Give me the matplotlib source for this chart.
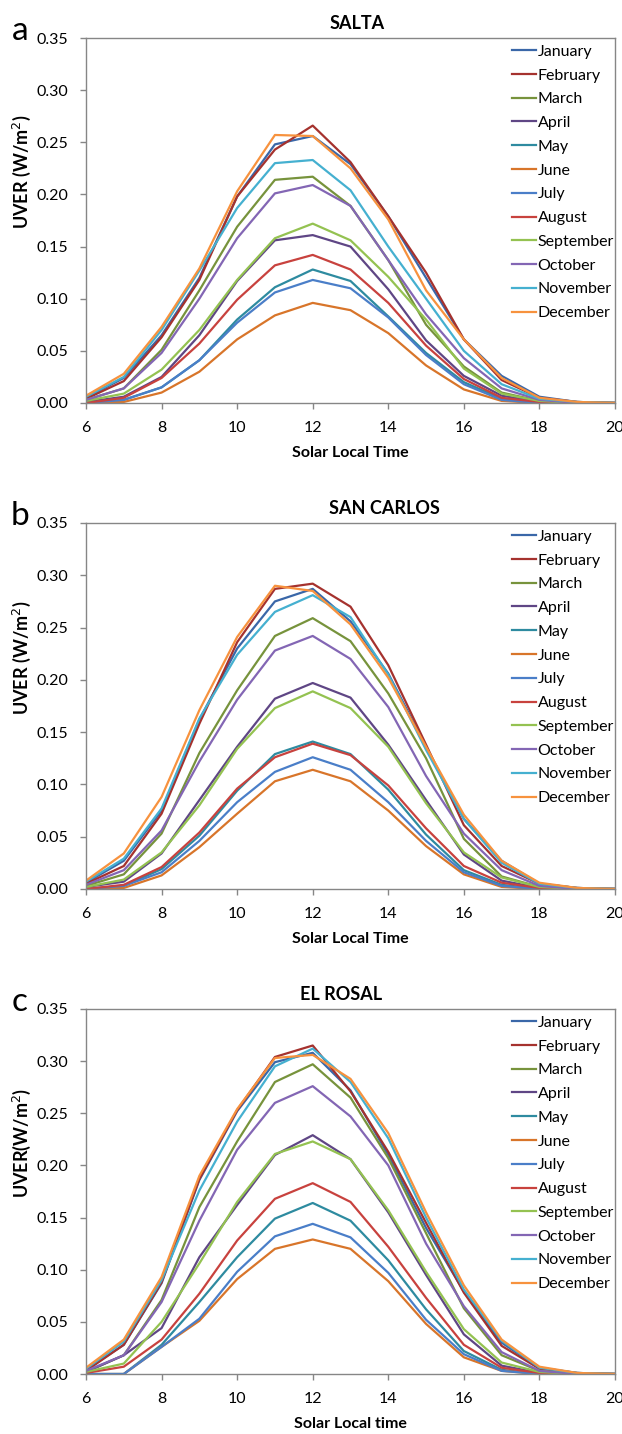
import numpy as np
import matplotlib
matplotlib.use("Agg")
import matplotlib.pyplot as plt

plt.rcParams['font.family'] = ['Lato', 'DejaVu Sans']

hours = list(range(6, 21))
months = ["January", "February", "March", "April", "May", "June", "July",
          "August", "September", "October", "November", "December"]
colors = ["#3A67A8", "#A5322E", "#77933C", "#5F4685", "#2E8BA0", "#D8752A",
          "#4A7EC8", "#C8423E", "#94C251", "#8366B4", "#45B0D0", "#F7923E"]

# SALTA
salta_jan = [0.005, 0.024, 0.065, 0.120, 0.198, 0.248, 0.256, 0.229, 0.179, 0.120, 0.061, 0.026, 0.006, 0.001, 0.000]
salta_feb = [0.004, 0.021, 0.063, 0.118, 0.198, 0.243, 0.266, 0.231, 0.179, 0.125, 0.061, 0.022, 0.005, 0.001, 0.000]
salta_mar = [0.003, 0.014, 0.051, 0.108, 0.169, 0.214, 0.217, 0.189, 0.137, 0.075, 0.035, 0.010, 0.002, 0.000, 0.000]
salta_apr = [0.001, 0.006, 0.025, 0.065, 0.117, 0.156, 0.161, 0.150, 0.109, 0.060, 0.026, 0.007, 0.001, 0.000, 0.000]
salta_may = [0.000, 0.003, 0.015, 0.041, 0.080, 0.111, 0.128, 0.117, 0.083, 0.048, 0.020, 0.004, 0.000, 0.000, 0.000]
salta_jun = [0.000, 0.001, 0.010, 0.030, 0.061, 0.084, 0.096, 0.089, 0.067, 0.036, 0.013, 0.002, 0.000, 0.000, 0.000]
salta_jul = [0.000, 0.003, 0.015, 0.041, 0.077, 0.106, 0.118, 0.110, 0.082, 0.046, 0.018, 0.003, 0.000, 0.000, 0.000]
salta_aug = [0.000, 0.005, 0.024, 0.057, 0.099, 0.132, 0.142, 0.128, 0.096, 0.055, 0.023, 0.005, 0.001, 0.000, 0.000]
salta_sep = [0.002, 0.009, 0.032, 0.070, 0.118, 0.158, 0.172, 0.156, 0.121, 0.080, 0.033, 0.009, 0.002, 0.000, 0.000]
salta_oct = [0.003, 0.014, 0.048, 0.100, 0.158, 0.201, 0.209, 0.189, 0.137, 0.085, 0.043, 0.014, 0.003, 0.000, 0.000]
salta_nov = [0.006, 0.025, 0.070, 0.127, 0.187, 0.230, 0.233, 0.204, 0.150, 0.100, 0.050, 0.018, 0.004, 0.001, 0.000]
salta_dec = [0.007, 0.028, 0.073, 0.129, 0.203, 0.257, 0.256, 0.225, 0.176, 0.108, 0.061, 0.024, 0.005, 0.001, 0.000]

# SAN CARLOS
sc_jan = [0.006, 0.027, 0.075, 0.162, 0.230, 0.275, 0.287, 0.256, 0.206, 0.136, 0.067, 0.027, 0.005, 0.001, 0.000]
sc_feb = [0.005, 0.022, 0.072, 0.158, 0.236, 0.287, 0.292, 0.270, 0.214, 0.138, 0.061, 0.022, 0.005, 0.001, 0.000]
sc_mar = [0.003, 0.014, 0.053, 0.130, 0.190, 0.242, 0.259, 0.237, 0.187, 0.125, 0.048, 0.012, 0.002, 0.000, 0.000]
sc_apr = [0.002, 0.007, 0.034, 0.085, 0.136, 0.182, 0.197, 0.183, 0.138, 0.085, 0.033, 0.008, 0.001, 0.000, 0.000]
sc_may = [0.000, 0.003, 0.019, 0.051, 0.094, 0.129, 0.141, 0.129, 0.095, 0.052, 0.018, 0.004, 0.000, 0.000, 0.000]
sc_jun = [0.000, 0.001, 0.013, 0.040, 0.072, 0.103, 0.114, 0.103, 0.075, 0.041, 0.014, 0.002, 0.000, 0.000, 0.000]
sc_jul = [0.000, 0.003, 0.016, 0.046, 0.083, 0.112, 0.126, 0.114, 0.083, 0.046, 0.016, 0.003, 0.000, 0.000, 0.000]
sc_aug = [0.000, 0.004, 0.021, 0.054, 0.096, 0.126, 0.139, 0.128, 0.099, 0.058, 0.022, 0.006, 0.001, 0.000, 0.000]
sc_sep = [0.002, 0.009, 0.035, 0.080, 0.134, 0.173, 0.189, 0.173, 0.136, 0.082, 0.035, 0.011, 0.002, 0.000, 0.000]
sc_oct = [0.004, 0.018, 0.056, 0.122, 0.181, 0.228, 0.242, 0.220, 0.174, 0.108, 0.053, 0.018, 0.003, 0.000, 0.000]
sc_nov = [0.007, 0.029, 0.077, 0.163, 0.224, 0.265, 0.281, 0.260, 0.205, 0.133, 0.067, 0.025, 0.005, 0.001, 0.000]
sc_dec = [0.008, 0.034, 0.088, 0.171, 0.241, 0.290, 0.285, 0.253, 0.202, 0.136, 0.071, 0.027, 0.006, 0.001, 0.000]

# EL ROSAL
er_jan = [0.004, 0.028, 0.087, 0.186, 0.252, 0.299, 0.308, 0.272, 0.210, 0.140, 0.079, 0.030, 0.006, 0.001, 0.000]
er_feb = [0.003, 0.028, 0.088, 0.187, 0.253, 0.304, 0.315, 0.271, 0.213, 0.145, 0.078, 0.027, 0.005, 0.001, 0.000]
er_mar = [0.002, 0.018, 0.071, 0.160, 0.223, 0.280, 0.297, 0.265, 0.207, 0.135, 0.063, 0.018, 0.003, 0.000, 0.000]
er_apr = [0.002, 0.018, 0.044, 0.112, 0.162, 0.210, 0.229, 0.206, 0.155, 0.095, 0.038, 0.008, 0.001, 0.000, 0.000]
er_may = [0.000, 0.000, 0.028, 0.069, 0.112, 0.149, 0.164, 0.147, 0.109, 0.062, 0.022, 0.004, 0.000, 0.000, 0.000]
er_jun = [0.000, 0.000, 0.026, 0.051, 0.091, 0.120, 0.129, 0.120, 0.089, 0.048, 0.016, 0.003, 0.000, 0.000, 0.000]
er_jul = [0.000, 0.000, 0.026, 0.053, 0.098, 0.132, 0.144, 0.131, 0.097, 0.052, 0.019, 0.003, 0.000, 0.000, 0.000]
er_aug = [0.001, 0.007, 0.033, 0.077, 0.128, 0.168, 0.183, 0.165, 0.122, 0.073, 0.028, 0.006, 0.001, 0.000, 0.000]
er_sep = [0.002, 0.010, 0.050, 0.106, 0.165, 0.211, 0.223, 0.206, 0.157, 0.098, 0.043, 0.011, 0.002, 0.000, 0.000]
er_oct = [0.003, 0.018, 0.069, 0.147, 0.215, 0.260, 0.276, 0.247, 0.200, 0.125, 0.065, 0.021, 0.003, 0.000, 0.000]
er_nov = [0.005, 0.031, 0.090, 0.176, 0.242, 0.295, 0.312, 0.280, 0.226, 0.150, 0.081, 0.032, 0.006, 0.001, 0.000]
er_dec = [0.006, 0.033, 0.093, 0.190, 0.254, 0.303, 0.306, 0.283, 0.231, 0.155, 0.085, 0.033, 0.007, 0.001, 0.000]

salta = [salta_jan, salta_feb, salta_mar, salta_apr, salta_may, salta_jun,
         salta_jul, salta_aug, salta_sep, salta_oct, salta_nov, salta_dec]
san_carlos = [sc_jan, sc_feb, sc_mar, sc_apr, sc_may, sc_jun,
              sc_jul, sc_aug, sc_sep, sc_oct, sc_nov, sc_dec]
el_rosal = [er_jan, er_feb, er_mar, er_apr, er_may, er_jun,
            er_jul, er_aug, er_sep, er_oct, er_nov, er_dec]

panels = [
    ("a", "SALTA", "UVER (W/m$^2$)", "Solar Local Time", salta, 0.512),
    ("b", "SAN CARLOS", "UVER (W/m$^2$)", "Solar Local Time", san_carlos, 0.565),
    ("c", "EL ROSAL", "UVER(W/m$^2$)", "Solar Local time", el_rosal, 0.482),
]

W, H = 622, 1434
fig = plt.figure(figsize=(W / 100, H / 100), dpi=100)

# pixel boxes (top, bottom) of each plot area
boxes = [(38, 403), (523, 889), (1009, 1374)]
left_px, right_px = 86, 615

for (letter, title, ylab, xlab, series, tx), (top, bot) in zip(panels, boxes):
    ax = fig.add_axes([left_px / W, 1 - bot / H, (right_px - left_px) / W, (bot - top) / H])
    for name, vals, c in zip(months, series, colors):
        ax.plot(hours, vals, color=c, lw=1.6, label=name)
    ax.set_xlim(6, 20)
    ax.set_ylim(0, 0.35)
    ax.set_xticks(range(6, 21, 2))
    ax.set_yticks(np.arange(0, 0.351, 0.05))
    ax.yaxis.set_major_formatter(matplotlib.ticker.FormatStrFormatter('%.2f'))
    ax.tick_params(labelsize=11.5, colors='#868686', labelcolor='black', length=4, width=1)
    ax.tick_params(axis='x', pad=9)
    ax.tick_params(axis='y', pad=9)
    for s in ax.spines.values():
        s.set_color('#868686')
        s.set_linewidth(1)
    ax.set_ylabel(ylab, fontsize=13, fontweight='bold')
    ax.yaxis.set_label_coords(-0.1, 0.633)
    ax.set_xlabel(xlab, fontsize=11.5, fontweight='bold', labelpad=8)
    ax.text(tx, 1.04, title, transform=ax.transAxes, ha='center', va='center',
            fontsize=13, fontweight='bold')
    ax.text(-0.125, 1.02, letter, transform=ax.transAxes, ha='center', va='center',
            fontsize=24)
    ax.legend(loc='upper left', bbox_to_anchor=(0.805, 0.982), frameon=False,
              fontsize=11.5, handlelength=1.5, handletextpad=0.12,
              labelspacing=0.6, borderaxespad=0.0, borderpad=0.0)

fig.savefig("out.png", dpi=100)
